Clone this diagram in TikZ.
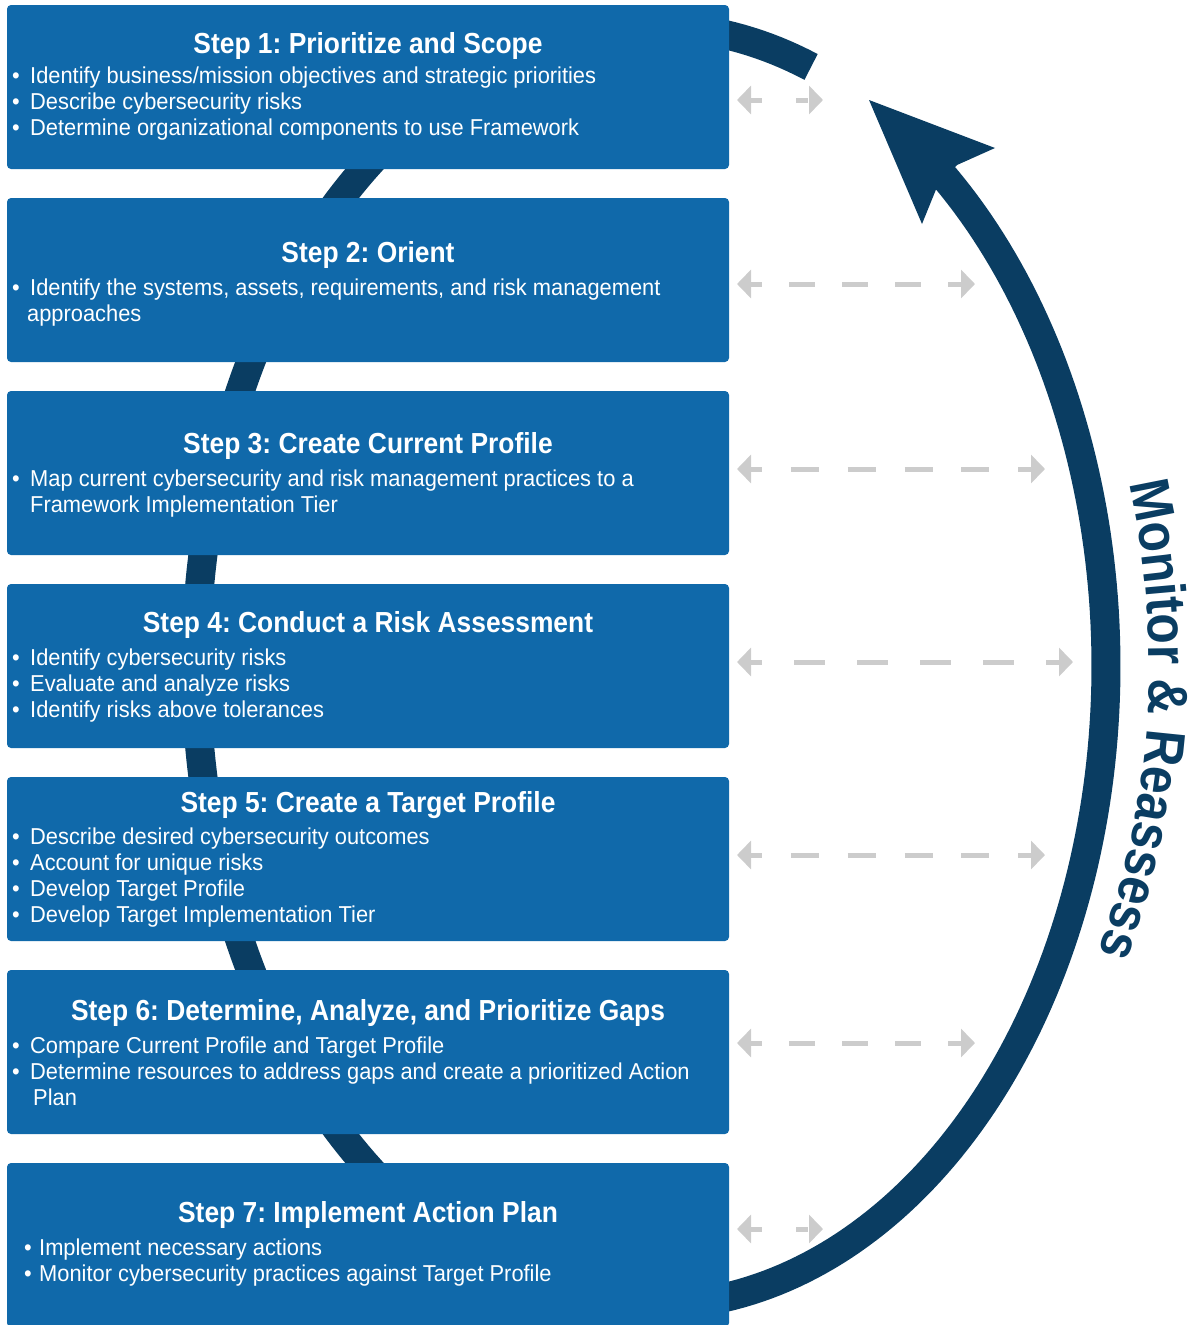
\documentclass[tikz,border=0pt]{standalone}
\usepackage{fontspec}
\setmainfont{Liberation Sans}
\newfontfamily\bodyfont{Liberation Sans}[FakeStretch=0.95]
\newfontfamily\titlefont{Liberation Sans}[FakeStretch=0.91]
\newfontfamily\mrfont{Liberation Sans}[FakeStretch=0.89]
\usetikzlibrary{arrows.meta,calc,decorations.text}
\definecolor{boxblue}{HTML}{1069AA}
\definecolor{navyblue}{HTML}{0A3D62}
\definecolor{arrowgray}{HTML}{CCCCCC}
\frenchspacing
\newcommand{\bul}{\makebox[18pt][l]{\textbullet}}
\newcommand{\bulw}[1]{\makebox[#1pt][l]{\textbullet}}
\newcommand{\indentby}[1]{\hspace*{#1pt}}
\newcommand{\lines}[1]{\begin{tabular}[t]{@{}l@{}}#1\end{tabular}}
\begin{document}
\begin{tikzpicture}[x=1pt,y=-1pt,
  stepbox/.style={fill=boxblue, rounded corners=4pt, minimum width=722pt, minimum height=164pt, inner sep=0pt, outer sep=0pt},
  steptitle/.style={anchor=base, text=white, font=\titlefont\bfseries\fontsize{29}{34}\selectfont, inner sep=0pt},
  bullets/.style={anchor=base west, text=white, font=\bodyfont\fontsize{23}{26}\selectfont, inner sep=0pt},
  band/.style={draw=navyblue, line width=29pt},
  sidearrow/.style={draw=arrowgray, line width=5pt, {Triangle[length=14pt,width=28pt]}-{Triangle[length=14pt,width=28pt]}},
]
\useasboundingbox (0,0) rectangle (1194,1325);
% big loop
\draw[band] plot[domain=-412:-69.4,samples=300] ({651+455*cos(\x)},{666+640*sin(\x)});
\fill[navyblue] (869,100) -- (995,148) -- (957,165) -- (937,187) -- (922,224) -- cycle;
% boxes
\node[stepbox] (s1) at (368,87) {};
\node[stepbox] (s2) at (368,280) {};
\node[stepbox] (s3) at (368,473) {};
\node[stepbox] (s4) at (368,666) {};
\node[stepbox] (s5) at (368,859) {};
\node[stepbox] (s6) at (368,1052) {};
\node[stepbox] (s7) at (368,1245) {};
% titles
\node[steptitle] (t1) at (368,53) {Step 1: Prioritize and Scope};
\node[steptitle] (t2) at (368,262.5) {Step 2: Orient};
\node[steptitle] (t3) at (368,453) {Step 3: Create Current Profile};
\node[steptitle] (t4) at (368,632.5) {Step 4: Conduct a Risk Assessment};
\node[steptitle] (t5) at (368,812.5) {Step 5: Create a Target Profile};
\node[steptitle] (t6) at (368,1020.5) {Step 6: Determine, Analyze, and Prioritize Gaps};
\node[steptitle] (t7) at (368,1222.5) {Step 7: Implement Action Plan};
% bullets
\node[bullets] (b1) at (12,83.5) {\lines{\bul Identify business/mission objectives and strategic priorities\\ \bul Describe cybersecurity risks\\ \bul Determine organizational components to use Framework}};
\node[bullets] (b2) at (12,295.5) {\lines{\bul Identify the systems, assets, requirements, and risk management\\ \indentby{15}approaches}};
\node[bullets] (b3) at (12,486) {\lines{\bul Map current cybersecurity and risk management practices to a\\ \indentby{18}Framework Implementation Tier}};
\node[bullets] (b4) at (12,665.5) {\lines{\bul Identify cybersecurity risks\\ \bul Evaluate and analyze risks\\ \bul Identify risks above tolerances}};
\node[bullets] (b5) at (12,844.5) {\lines{\bul Describe desired cybersecurity outcomes\\ \bul Account for unique risks\\ \bul Develop Target Profile\\ \bul Develop Target Implementation Tier}};
\node[bullets] (b6) at (12,1053) {\lines{\bul Compare Current Profile and Target Profile\\ \bul Determine resources to address gaps and create a prioritized Action\\ \indentby{21}Plan}};
\node[bullets] (b7) at (24,1255.5) {\lines{\bulw{15}Implement necessary actions\\ \bulw{15}Monitor cybersecurity practices against Target Profile}};
% side arrows
\coordinate (r1) at (823,100);
\coordinate (r2) at (975,284);
\coordinate (r3) at (1045,469);
\coordinate (r4) at (1073,662);
\coordinate (r5) at (1045,855);
\coordinate (r6) at (975,1043);
\coordinate (r7) at (823,1229);
\draw[sidearrow, dash pattern=on 12pt off 34pt] ([xshift=8pt]s1.east |- r1) -- (r1);
\draw[sidearrow, dash pattern=on 26pt off 27pt, dash phase=14pt] ([xshift=8pt]s2.east |- r2) -- (r2);
\draw[sidearrow, dash pattern=on 28pt off 28.8pt, dash phase=16pt] ([xshift=8pt]s3.east |- r3) -- (r3);
\draw[sidearrow, dash pattern=on 31pt off 32pt, dash phase=19pt] ([xshift=8pt]s4.east |- r4) -- (r4);
\draw[sidearrow, dash pattern=on 28pt off 28.8pt, dash phase=16pt] ([xshift=8pt]s5.east |- r5) -- (r5);
\draw[sidearrow, dash pattern=on 26pt off 27pt, dash phase=14pt] ([xshift=8pt]s6.east |- r6) -- (r6);
\draw[sidearrow, dash pattern=on 12pt off 34pt] ([xshift=8pt]s7.east |- r7) -- (r7);
% label along the loop
\path[decorate, decoration={text along path, text align=center,
  text={|\mrfont\bfseries\fontsize{56}{66}\selectfont\color{navyblue}|Monitor {\&} Reassess}}]
  plot[domain=-22:32,samples=120] ({651+498*cos(\x)},{666+650*sin(\x)});
\end{tikzpicture}
\end{document}
